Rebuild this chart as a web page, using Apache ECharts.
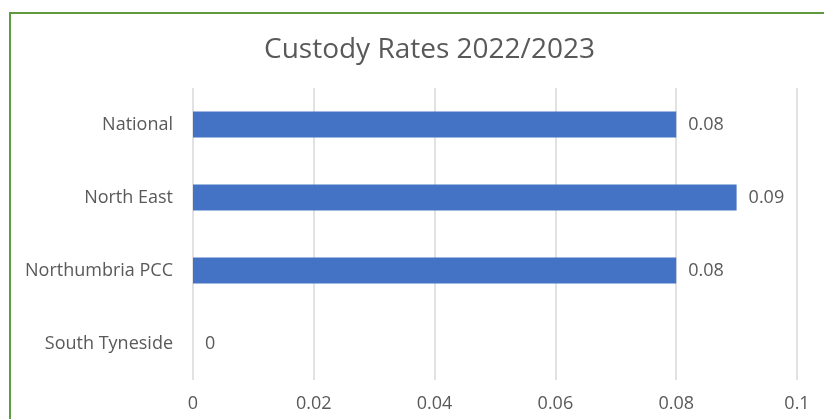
<!DOCTYPE html>
<html>
<head>
<meta charset="utf-8">
<script src="https://cdn.jsdelivr.net/npm/echarts@6/dist/echarts.min.js"></script>
<style>html,body{margin:0;padding:0;background:#fff}#c{width:824px;height:419px}</style>
</head>
<body>
<div id="c"></div>
<script>
const categories = ["National", "North East", "Northumbria PCC", "South Tyneside"];
const values = [0.08, 0.09, 0.08, 0];
const tickLabels = ["0", "0.02", "0.04", "0.06", "0.08", "0.1"];
const titleText = "Custody Rates 2022/2023";

const chart = echarts.init(document.getElementById('c'), null, {renderer: 'canvas'});
const font = '"Open Sans", sans-serif';
chart.setOption({
  animation: false,
  backgroundColor: '#ffffff',
  title: {
    text: titleText,
    left: 259,
    top: 31,
    textStyle: {fontFamily: font, fontSize: 28, fontWeight: 'normal', color: '#595959'}
  },
  graphic: [{
    type: 'rect',
    shape: {x: 10, y: 13, width: 900, height: 500},
    style: {fill: 'none', stroke: '#5f9a3e', lineWidth: 2},
    silent: true
  }],
  grid: {left: 193, right: 27, top: 88, bottom: 39, containLabel: false},
  xAxis: {
    type: 'value',
    min: 0, max: 0.1, interval: 0.02,
    axisLine: {show: false},
    axisTick: {show: false},
    splitLine: {show: true, lineStyle: {color: '#d9d9d9', width: 1.5}},
    axisLabel: {
      fontFamily: font, fontSize: 18, color: '#595959', margin: 15,
      formatter: function (v) { const i = Math.round(v / 0.02); return tickLabels[i]; }
    }
  },
  yAxis: {
    type: 'category',
    inverse: true,
    data: categories,
    axisLine: {show: false},
    axisTick: {show: false},
    splitLine: {show: false},
    axisLabel: {fontFamily: font, fontSize: 18, color: '#595959', margin: 20}
  },
  series: [{
    type: 'bar',
    data: values,
    barWidth: 26,
    itemStyle: {color: '#4472c4'},
    label: {
      show: true, position: 'right', distance: 12,
      fontFamily: font, fontSize: 18, color: '#595959',
      formatter: function (p) { return String(p.value); }
    }
  }]
});
</script>
</body>
</html>
